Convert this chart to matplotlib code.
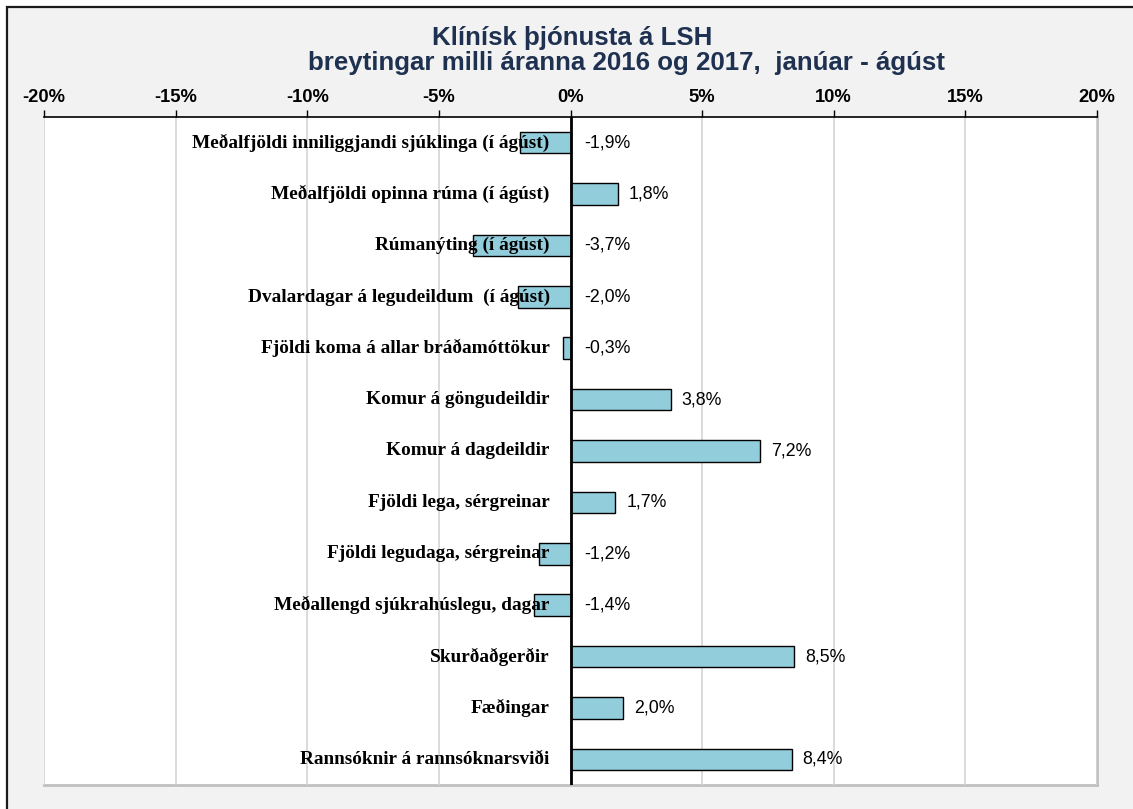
import matplotlib
matplotlib.use("Agg")
import matplotlib.pyplot as plt
from matplotlib.patches import Rectangle
from matplotlib.ticker import FixedLocator, FuncFormatter

categories = [
    "Meðalfjöldi inniliggjandi sjúklinga (í ágúst)",
    "Meðalfjöldi opinna rúma (í ágúst)",
    "Rúmanýting (í ágúst)",
    "Dvalardagar á legudeildum  (í ágúst)",
    "Fjöldi koma á allar bráðamóttökur",
    "Komur á göngudeildir",
    "Komur á dagdeildir",
    "Fjöldi lega, sérgreinar",
    "Fjöldi legudaga, sérgreinar",
    "Meðallengd sjúkrahúslegu, dagar",
    "Skurðaðgerðir",
    "Fæðingar",
    "Rannsóknir á rannsóknarsviði",
]
values = [-1.9, 1.8, -3.7, -2.0, -0.3, 3.8, 7.2, 1.7, -1.2, -1.4, 8.5, 2.0, 8.4]
xticks = [-20, -15, -10, -5, 0, 5, 10, 15, 20]
title_line1 = "Klínísk þjónusta á LSH"
title_line2 = "breytingar milli áranna 2016 og 2017,  janúar - ágúst"

W, H = 1133, 809
fig = plt.figure(figsize=(W / 100, H / 100), dpi=100, facecolor="white")
# outer chart area: gray with dark border (left/top visible)
fig.patches.append(Rectangle((7 / W, -0.05), 1.2, 1 - 7 / H + 0.05, transform=fig.transFigure,
                             facecolor="#f2f2f2", edgecolor="#1a1a1a", linewidth=1.6, zorder=-10))

left, right = 44 / W, 1097 / W
top, bottom = 1 - 117 / H, 1 - 785 / H
ax = fig.add_axes([left, bottom, right - left, top - bottom])
ax.set_zorder(1)
ax.set_facecolor("white")

n = len(categories)
ypos = list(range(n))
ax.barh(ypos, values, height=0.42, color="#92cddc", edgecolor="black", linewidth=1.0, zorder=3)
ax.set_xlim(-20, 20)
ax.set_ylim(n - 0.5, -0.5)
ax.axvline(0, color="black", linewidth=2.0, zorder=4)

ax.xaxis.set_major_locator(FixedLocator(xticks))
ax.xaxis.set_major_formatter(FuncFormatter(lambda v, p: f"{int(v)}%"))
ax.xaxis.tick_top()
ax.tick_params(axis="x", direction="out", length=5, width=1, pad=3, labelsize=13.2)
for lbl in ax.get_xticklabels():
    lbl.set_fontweight("bold")
    lbl.set_fontfamily("Liberation Sans")
ax.set_yticks([])
ax.grid(axis="x", color="#d4d4d4", linewidth=1.2, zorder=0)

for s in ["left", "right", "bottom"]:
    ax.spines[s].set_visible(False)
ax.spines["top"].set_color("black")
ax.spines["top"].set_linewidth(1.2)

# light gray edges on right and bottom
ax.plot([1, 1], [0, 1], transform=ax.transAxes, color="#c0c0c0", lw=2, clip_on=False, zorder=1)
ax.plot([0, 1], [0, 0], transform=ax.transAxes, color="#c0c0c0", lw=2, clip_on=False, zorder=1)

for y, cat, v in zip(ypos, categories, values):
    ax.annotate(cat, xy=(0, y), xytext=(-15, 0), textcoords="offset points",
                ha="right", va="center", fontsize=13.9, fontweight="bold",
                family="Liberation Serif", color="black", zorder=5)
    xv = max(v, 0)
    off = 8 if v > 0 else 10
    ax.annotate(f"{v:.1f}%".replace(".", ","), xy=(xv, y), xytext=(off, 0),
                textcoords="offset points", ha="left", va="center", fontsize=12.8,
                family="Liberation Sans", color="black", zorder=5)

tkw = dict(ha="center", va="center", fontsize=18.6, fontweight="bold",
           family="Liberation Sans", color="#1f3150")
fig.text(572 / W, 1 - 38 / H, title_line1, **tkw)
fig.text(627 / W, 1 - 63 / H, title_line2, **tkw)

fig.savefig("out.png", dpi=100, facecolor=fig.get_facecolor())
